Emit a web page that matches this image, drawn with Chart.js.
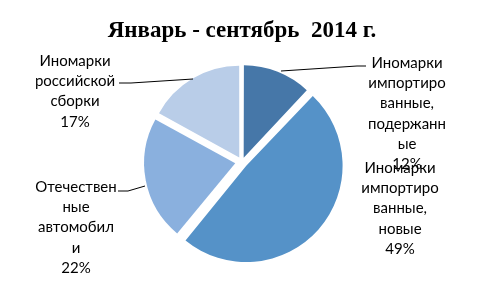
<!DOCTYPE html>
<html lang="ru">
  <head>
    <meta charset="UTF-8" />
    <script src="https://cdn.jsdelivr.net/npm/chart.js"></script>
    <style>
      body { margin: 0; background: #fff; }
      #grafico { width: 493px; height: 295px; }
    </style>
    <title>Январь - сентябрь 2014 г.</title>
  </head>
  <body>
    <div id="grafico"><canvas id="pizza"></canvas></div>
    <script>
      // dados
      const categorias = [
        "Иномарки импортированные, подержанные",
        "Иномарки импортированные, новые",
        "Отечественные автомобили",
        "Иномарки российской сборки",
      ];
      const valores = [12, 49, 22, 17];
      // quebra das linhas como no Excel
      const linhasRotulo = [
        ["Иномарки", "импортиро", "ванные,", "подержанн", "ые"],
        ["Иномарки", "импортиро", "ванные,", "новые"],
        ["Отечествен", "ные", "автомобил", "и"],
        ["Иномарки", "российской", "сборки"],
      ];

      const cores = ["#4677a8", "#5592c8", "#8ab0de", "#b9cde8"];
      // deslocamento de cada fatia (px)
      const afastamento = [6, 11, 7, 6];
      // posicao dos rotulos: centro x, y da primeira linha
      const posRotulo = [
        [407, 63],
        [400, 168],
        [76, 187],
        [75, 61],
      ];
      // linhas de chamada
      const chamadas = [
        [[281, 71], [357, 66], [366, 66]],
        null,
        [[118, 191], [128, 191], [145, 186]],
        [[119, 83], [131, 83], [193, 79]],
      ];

      // converte o afastamento desejado no "offset" do Chart.js
      const total = valores.reduce((a, b) => a + b, 0);
      const offsets = valores.map(function (v, i) {
        const circ = (v / total) * 2 * Math.PI;
        const fix = 1 - Math.sin(Math.min(Math.PI, circ));
        return (afastamento[i] * 4) / (1 + fix);
      });

      const rotulos = {
        id: "rotulos",
        afterDraw(chart) {
          const ctx = chart.ctx;
          ctx.save();
          // linhas de chamada
          ctx.strokeStyle = "#000";
          ctx.lineWidth = 1;
          chamadas.forEach(function (c) {
            if (!c) return;
            ctx.beginPath();
            ctx.moveTo(c[0][0], c[0][1]);
            for (let k = 1; k < c.length; k++) ctx.lineTo(c[k][0], c[k][1]);
            ctx.stroke();
          });
          ctx.font = "15px Lato";
          ctx.fillStyle = "#000";
          ctx.textAlign = "center";
          ctx.textBaseline = "middle";
          for (let i = 0; i < valores.length; i++) {
            const linhas = linhasRotulo[i].concat([Math.round((valores[i] / total) * 100) + "%"]);
            const x = posRotulo[i][0];
            let y = posRotulo[i][1];
            linhas.forEach(function (l) {
              ctx.fillText(l, x, y);
              y += 20.3;
            });
          }
          ctx.restore();
        },
      };

      new Chart(document.getElementById("pizza"), {
        type: "pie",
        data: {
          labels: categorias,
          datasets: [
            {
              data: valores,
              backgroundColor: cores,
              borderWidth: 0,
              offset: offsets,
              hoverOffset: 0,
              radius: 91,
            },
          ],
        },
        options: {
          responsive: true,
          maintainAspectRatio: false,
          animation: false,
          events: [],
          layout: { padding: { left: 0, right: 9, top: 0, bottom: 15.6 } },
          plugins: {
            legend: { display: false },
            tooltip: { enabled: false },
            title: {
              display: true,
              text: "Январь - сентябрь  2014 г.",
              color: "#000",
              font: { family: "'Liberation Serif', 'Times New Roman', serif", size: 23, weight: "bold" },
              padding: { top: 17, bottom: 0 },
            },
          },
        },
        plugins: [rotulos],
      });
    </script>
  </body>
</html>
